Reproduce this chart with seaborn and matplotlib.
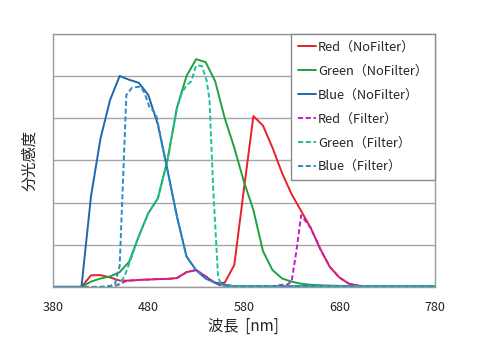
import numpy as np
import pandas as pd
import matplotlib
matplotlib.use("Agg")
import matplotlib.pyplot as plt
import seaborn as sns

# ---- data ----
wl = list(range(380, 790, 10))
red_nf = [0, 0, 0, 0, 0.055, 0.056, 0.045, 0.03, 0.03, 0.033, 0.035, 0.037, 0.038, 0.042,
          0.07, 0.08, 0.05, 0.018, 0.02, 0.104, 0.46, 0.81, 0.765, 0.66, 0.54, 0.44, 0.36,
          0.28, 0.18, 0.095, 0.045, 0.015, 0.006, 0.002, 0, 0, 0, 0, 0, 0, 0]
green_nf = [0, 0, 0, 0, 0.025, 0.04, 0.05, 0.07, 0.12, 0.24, 0.35, 0.42, 0.6, 0.85, 1.0,
            1.08, 1.066, 0.975, 0.80, 0.66, 0.50, 0.365, 0.17, 0.08, 0.04, 0.025, 0.015,
            0.01, 0.008, 0.006, 0.005, 0.004, 0.003, 0.002, 0.002, 0.002, 0.002, 0.002,
            0.002, 0.002, 0.002]
blue_nf = [0, 0, 0, 0, 0.43, 0.705, 0.887, 1.0, 0.982, 0.968, 0.91, 0.77, 0.555, 0.333,
           0.144, 0.08, 0.04, 0.02, 0.01, 0.004, 0.004, 0.004, 0.004, 0.004, 0.004, 0.004,
           0.004, 0.004, 0.004, 0.004, 0.004, 0.004, 0.004, 0.004, 0.004, 0.004, 0.004,
           0.004, 0.004, 0.004, 0.004]

red_f_wl = [380, 440, 445, 450, 455, 460, 470, 480, 490, 500, 510, 520, 530, 540, 550, 555,
            560, 610, 620, 625, 630, 635, 640, 650, 660, 670, 680, 690, 700, 710, 720, 780]
red_f = [0, 0, 0.005, 0.012, 0.025, 0.03, 0.033, 0.035, 0.037, 0.038, 0.042, 0.07, 0.08,
         0.05, 0.018, 0.008, 0.004, 0.004, 0.01, 0.01, 0.025, 0.17, 0.34, 0.28, 0.18, 0.095,
         0.045, 0.015, 0.006, 0.002, 0, 0]
green_f_wl = [380, 435, 440, 450, 455, 460, 470, 480, 490, 500, 510, 515, 520, 525, 530, 536,
              541, 544, 548, 553, 556, 560, 780]
green_f = [0, 0, 0.003, 0.015, 0.05, 0.11, 0.24, 0.35, 0.42, 0.6, 0.85, 0.92, 0.955, 0.975,
           1.05, 1.048, 0.98, 0.89, 0.46, 0.05, 0.01, 0.004, 0.003]
blue_f_wl = [380, 430, 440, 445, 450, 457, 463, 472, 476, 481, 488, 492, 500, 510, 520, 530,
             540, 550, 560, 570, 780]
blue_f = [0, 0, 0.005, 0.015, 0.1, 0.91, 0.945, 0.95, 0.92, 0.855, 0.82, 0.73, 0.555, 0.333,
          0.144, 0.08, 0.04, 0.02, 0.01, 0.004, 0.004]

labels = ["Red（NoFilter）", "Green（NoFilter）", "Blue（NoFilter）",
          "Red（Filter）", "Green（Filter）", "Blue（Filter）"]
xticks = [380, 480, 580, 680, 780]

# ---- style ----
sns.set_theme(style="white")
plt.rcParams['font.family'] = ['Noto Sans CJK JP', 'DejaVu Sans']

fig = plt.figure(figsize=(4.8, 3.6), dpi=100)
ax = fig.add_axes([0.110, 0.203, 0.796, 0.703])

series = [
    (wl, red_nf, "#E8202A", "-"),
    (wl, green_nf, "#1FA23E", "-"),
    (wl, blue_nf, "#1D67AE", "-"),
    (red_f_wl, red_f, "#C21BC8", (0, (2.6, 1.4))),
    (green_f_wl, green_f, "#1DC09C", (0, (2.6, 1.4))),
    (blue_f_wl, blue_f, "#2B8CC4", (0, (2.6, 1.4))),
]
for (x, y, c, ls), lab in zip(series, labels):
    df = pd.DataFrame({"wl": x, "v": y})
    sns.lineplot(data=df, x="wl", y="v", ax=ax, color=c, linestyle=ls,
                 linewidth=1.4, label=lab, sort=False, estimator=None)

ax.set_xlim(380, 780)
ax.set_ylim(0, 1.2)
ax.set_yticks(np.arange(0, 1.21, 0.2))
ax.set_yticklabels([])
ax.tick_params(axis='y', length=0)
ax.set_xticks(xticks)
ax.set_xticklabels([str(t) for t in xticks], fontsize=9, color="#222222")
ax.tick_params(axis='x', length=3, color="#999999", direction="out", pad=7)
ax.yaxis.grid(True, color="#A6A6A6", linewidth=1.0)
ax.xaxis.grid(False)
for s in ax.spines.values():
    s.set_color("#9A9A9A")
    s.set_linewidth(1.0)

ax.set_xlabel("波長  [nm]", fontsize=11, color="#222222", labelpad=3)
ax.set_ylabel("分光感度", fontsize=11, color="#222222", labelpad=7)

leg = ax.legend(loc="upper right", bbox_to_anchor=(1.0, 1.0), borderaxespad=0,
                fontsize=9.3, handlelength=1.45, handletextpad=0.12,
                labelspacing=0.84, frameon=True, fancybox=False,
                borderpad=0.55)
leg.get_frame().set_edgecolor("#8C8C8C")
leg.get_frame().set_linewidth(1.0)
leg.get_frame().set_alpha(1)

fig.savefig("out.png", dpi=100)
